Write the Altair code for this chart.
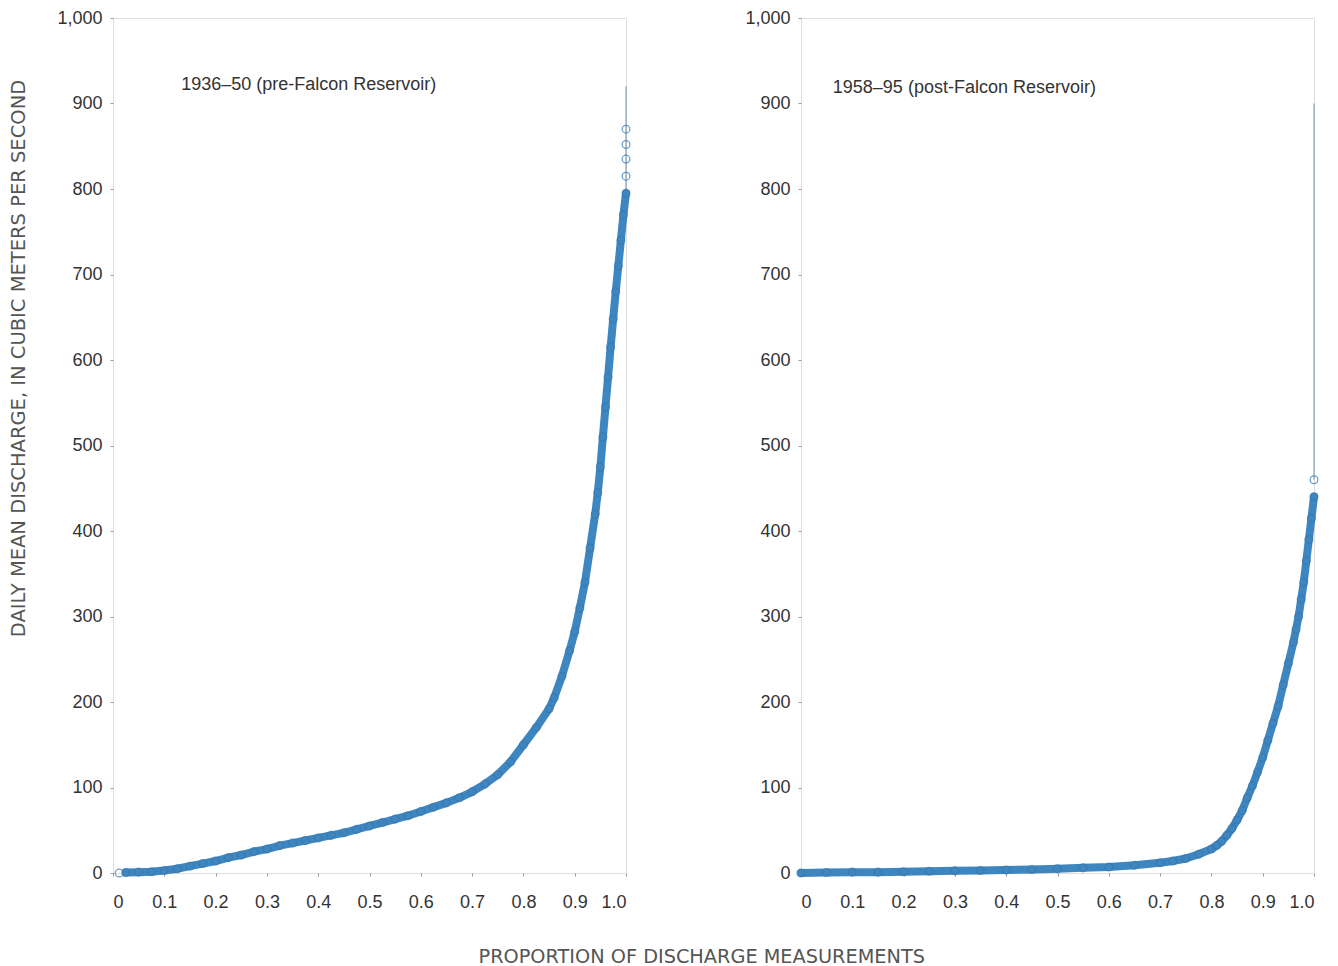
import altair as alt
import pandas as pd

# ---- data ----
pre_x = [0.025, 0.05, 0.075, 0.1, 0.125, 0.15, 0.175, 0.2, 0.225, 0.25, 0.275, 0.3, 0.325, 0.35,
         0.375, 0.4, 0.425, 0.45, 0.475, 0.5, 0.525, 0.55, 0.575, 0.6, 0.625, 0.65, 0.675, 0.7,
         0.725, 0.75, 0.775, 0.8, 0.825, 0.85, 0.86, 0.875, 0.89, 0.9, 0.91, 0.92, 0.93, 0.94,
         0.945, 0.95, 0.955, 0.96, 0.965, 0.97, 0.975, 0.98, 0.985, 0.99, 0.995, 1.0]
pre_y = [0.5, 1, 1.5, 3, 5, 8, 11, 14, 18, 21, 25, 28, 32, 35,
         38, 41, 44, 47, 51, 55, 59, 63, 67, 72, 77, 82, 88, 95,
         104, 115, 130, 150, 170, 192, 205, 230, 260, 282, 310, 340, 380, 420,
         445, 475, 510, 545, 580, 615, 648, 680, 710, 740, 770, 795]
pre_extra_x = [0.012, 1.0, 1.0, 1.0, 1.0]
pre_extra_y = [0, 815, 835, 852, 870]

post_x = [0.0, 0.05, 0.1, 0.15, 0.2, 0.25, 0.3, 0.35, 0.4, 0.45, 0.5, 0.55, 0.6, 0.65, 0.7,
          0.725, 0.75, 0.775, 0.8, 0.81, 0.82, 0.83, 0.84, 0.85, 0.86, 0.87, 0.88, 0.89, 0.9,
          0.91, 0.92, 0.93, 0.94, 0.95, 0.96, 0.965, 0.97, 0.975, 0.98, 0.985, 0.99, 0.995, 1.0]
post_y = [0, 0.5, 1, 1, 1.5, 2, 2.5, 3, 3.5, 4, 5, 6, 7, 9, 12,
          14, 17, 22, 28, 32, 37, 44, 52, 62, 73, 88, 102, 118, 135,
          155, 175, 195, 220, 245, 270, 285, 300, 320, 340, 365, 390, 415, 440]
post_extra_x = [1.0]
post_extra_y = [460]

x_ticks = [0, 0.1, 0.2, 0.3, 0.4, 0.5, 0.6, 0.7, 0.8, 0.9, 1.0]
y_ticks = [0, 100, 200, 300, 400, 500, 600, 700, 800, 900, 1000]

pre_label = "1936–50 (pre-Falcon Reservoir)"
post_label = "1958–95 (post-Falcon Reservoir)"
y_title = "DAILY MEAN DISCHARGE, IN CUBIC METERS PER SECOND"
x_title = "PROPORTION OF DISCHARGE MEASUREMENTS"

FONT = "Liberation Sans"
TFONT = "DejaVu Sans"
LINE_C = "#3d86c0"
PT_C = "#3a76ad"
W, H = 513, 855


def panel(xs, ys, exx, exy, label, lab_x, lab_y, rule_lo, rule_hi, first):
    df = pd.DataFrame({"p": xs, "q": ys})
    ex = pd.DataFrame({"p": exx, "q": exy})
    xsc = alt.Scale(domain=[0, 1], nice=False, zero=False)
    ysc = alt.Scale(domain=[0, 1000], nice=False)
    xax = alt.Axis(values=x_ticks, title=None, grid=False, domain=False, ticks=True,
                   tickSize=3, tickColor="#999",
                   labelPadding=17, labelFontSize=18, labelColor="#333", labelFont=FONT,
                   labelExpr="datum.value == 0 ? '0' : format(datum.value, '.1f')")
    common = dict(values=y_ticks, format=",d", grid=False, domain=False, ticks=True,
                  tickSize=3, tickColor="#999",
                  labelPadding=8, labelFontSize=18, labelColor="#333", labelFont=FONT)
    if first:
        yax = alt.Axis(title=y_title, titleFont=TFONT, titleFontSize=19.5,
                       titleFontWeight="normal", titleColor="#555", titleY=340,
                       titlePadding=28, **common)
    else:
        yax = alt.Axis(title=None, **common)
    x = alt.X("p:Q", scale=xsc, axis=xax)
    y = alt.Y("q:Q", scale=ysc, axis=yax)

    line = alt.Chart(df).mark_line(strokeWidth=8, color=LINE_C, strokeCap="round",
                                   strokeJoin="round").encode(x=x, y=y)
    pts = alt.Chart(df).mark_point(filled=False, size=60, strokeWidth=1.3,
                                   color=PT_C).encode(x=x, y=y)
    expts = alt.Chart(ex).mark_point(filled=False, size=60, strokeWidth=1.3,
                                     color=PT_C).encode(x=x, y=y)
    rdf = pd.DataFrame({"p": [1.0], "lo": [rule_lo], "hi": [rule_hi]})
    rule = alt.Chart(rdf).mark_rule(color="#6f8fb0", strokeWidth=1).encode(
        x=alt.X("p:Q", scale=xsc), y=alt.Y("lo:Q", scale=ysc), y2="hi:Q")
    tdf = pd.DataFrame({"p": [lab_x], "q": [lab_y], "t": [label]})
    txt = alt.Chart(tdf).mark_text(align="left", baseline="middle", fontSize=18,
                                   font=FONT, color="#333").encode(
        x=alt.X("p:Q", scale=xsc), y=alt.Y("q:Q", scale=ysc), text="t:N")
    return alt.layer(rule, line, pts, expts, txt).properties(width=W, height=H)


left = panel(pre_x, pre_y, pre_extra_x, pre_extra_y, pre_label, 0.133, 922, 795, 920, True)
right = panel(post_x, post_y, post_extra_x, post_extra_y, post_label, 0.062, 918, 460, 900, False)

chart = alt.hconcat(left, right, spacing=111).properties(
    title=alt.TitleParams(x_title, orient="bottom", anchor="middle", fontSize=19.3,
                          fontWeight="normal", color="#555", font=TFONT, offset=36, dx=37),
    padding={"left": 0, "top": 0, "right": 5, "bottom": 5}
).configure_view(stroke="#999", strokeWidth=1).configure(background="white")

chart.save("out.html", embed_options={"renderer": "svg", "actions": False})
